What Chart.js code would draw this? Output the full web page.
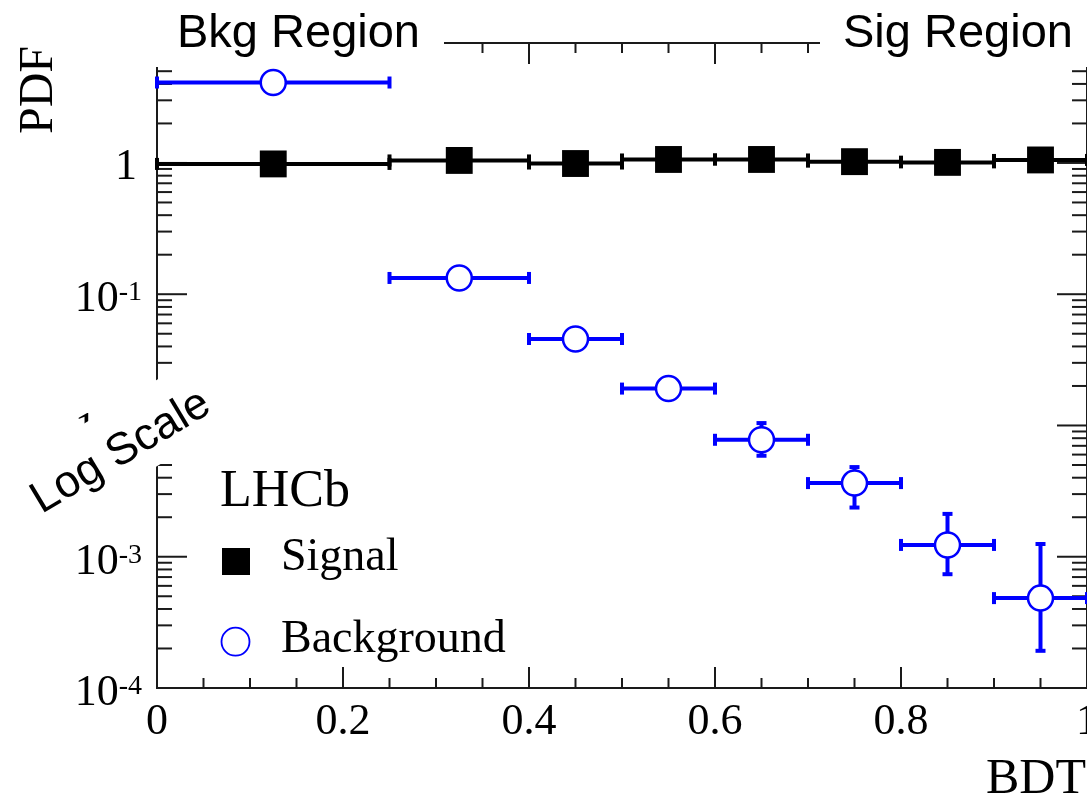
<!DOCTYPE html>
<html>
<head>
<meta charset="utf-8">
<title>BDT PDF</title>
<script src="https://cdn.jsdelivr.net/npm/chart.js@4.4.0/dist/chart.umd.min.js"></script>
<style>
    html, body { margin: 0; padding: 0; background: #fff; overflow: hidden; }
    #wrap { width: 1087px; height: 798px; overflow: hidden; position: relative; }
    canvas { display: block; }
</style>
</head>
<body>
<div id="wrap"><canvas id="pdfChart" width="1120" height="798"></canvas></div>
<script>
// Bines del BDT
const binLo = [0, 0.25, 0.4, 0.5, 0.6, 0.7, 0.8, 0.9];
const binHi = [0.25, 0.4, 0.5, 0.6, 0.7, 0.8, 0.9, 1.0];
const binCenter = [0.125, 0.325, 0.45, 0.55, 0.65, 0.75, 0.85, 0.95];

// Señal
const signalPdf = [0.983, 1.045, 0.99, 1.063, 1.063, 1.023, 1.01, 1.054];

// Fondo (errores verticales: null = escondido bajo el marcador)
const backgroundPdf = [4.1, 0.133, 0.0456, 0.0191, 0.00778, 0.00364, 0.00123, 0.000484];
const backgroundErrHi = [null, null, null, null, 0.01043, 0.00482, 0.00212, 0.00125];
const backgroundErrLo = [null, null, null, null, 0.00588, 0.00237, 0.000736, 0.000192];

// Ejes
const xTickValues = [0, 0.2, 0.4, 0.6, 0.8, 1];
const xMinorStep = 0.05;
const yMin = 1e-4;
const yMax = 8.2;
const yTickValues = [1, 1e-1, 1e-2, 1e-3, 1e-4];
const yTickBases = ['1', '10', '10', '10', '10'];
const yTickExps = ['', '-1', '-2', '-3', '-4'];

const serif = '"Liberation Serif", "Times New Roman", serif';
const sans = '"Liberation Sans", Arial, sans-serif';
const blue = '#0000ff';
const frameColor = '#1a1a1a';

function seg(ctx, x1, y1, x2, y2) {
    ctx.beginPath();
    ctx.moveTo(x1, y1);
    ctx.lineTo(x2, y2);
    ctx.stroke();
}

// Marco estilo ROOT + barras de error
const framePlugin = {
    id: 'rootFrame',
    beforeDatasetsDraw(chart) {
        const ctx = chart.ctx;
        const xs = chart.scales.x, ys = chart.scales.y;
        const a = chart.chartArea;
        ctx.save();
        ctx.strokeStyle = frameColor;
        ctx.lineWidth = 2;
        ctx.lineCap = 'butt';
        // marco
        ctx.strokeRect(a.left, a.top, a.right - a.left, a.bottom - a.top);

        // ticks eje X (abajo y arriba, hacia dentro)
        for (let i = 0; i <= 20; i++) {
            const v = i * xMinorStep;
            const x = xs.getPixelForValue(v);
            const major = xTickValues.some(t => Math.abs(t - v) < 1e-9);
            const len = major ? 21 : 10;
            seg(ctx, x, a.bottom, x, a.bottom - len);
            seg(ctx, x, a.top, x, a.top + len);
        }

        // ticks eje Y (izquierda y derecha)
        for (let e = -4; e <= 0; e++) {
            for (let m = 1; m <= 9; m++) {
                const v = m * Math.pow(10, e);
                if (v > yMax) continue;
                const y = ys.getPixelForValue(v);
                const len = m === 1 ? 30 : 15;
                seg(ctx, a.left, y, a.left + len, y);
                seg(ctx, a.right, y, a.right - len, y);
            }
        }

        // barras de error
        ctx.beginPath();
        ctx.rect(a.left - 3, a.top, a.right - a.left + 6, a.bottom - a.top);
        ctx.clip();
        chart.data.datasets.forEach(ds => {
            ctx.strokeStyle = ds.errorColor;
            ctx.lineWidth = 4;
            ds.data.forEach((p, i) => {
                const y = ys.getPixelForValue(p.y);
                const xl = xs.getPixelForValue(ds.xLo[i]);
                const xh = xs.getPixelForValue(ds.xHi[i]);
                seg(ctx, xl, y, xh, y);
                seg(ctx, xl, y - 6, xl, y + 6);
                seg(ctx, xh, y - 6, xh, y + 6);
                if (ds.yHi && ds.yHi[i] != null) {
                    const x = xs.getPixelForValue(p.x);
                    const yt = ys.getPixelForValue(ds.yHi[i]);
                    const yb = ys.getPixelForValue(ds.yLo[i]);
                    seg(ctx, x, yt, x, yb);
                    seg(ctx, x - 5, yt, x + 5, yt);
                    seg(ctx, x - 5, yb, x + 5, yb);
                }
            });
        });
        ctx.restore();
    },
    afterDraw(chart) {
        const ctx = chart.ctx;
        const ys = chart.scales.y;
        const a = chart.chartArea;
        ctx.save();
        ctx.fillStyle = '#000';
        ctx.textBaseline = 'alphabetic';
        ctx.textAlign = 'right';

        // etiquetas eje Y con exponente
        yTickValues.forEach((v, i) => {
            const y = ys.getPixelForValue(v);
            const right = a.left - 15;
            if (!yTickExps[i]) {
                ctx.font = `44px ${serif}`;
                ctx.fillText(yTickBases[i], right - 5, y + 16);
                return;
            }
            ctx.font = `28px ${serif}`;
            ctx.fillText(yTickExps[i], right, y + 6);
            const ew = ctx.measureText(yTickExps[i]).width;
            ctx.font = `44px ${serif}`;
            ctx.fillText(yTickBases[i], right - ew, y + 17);
        });

        // títulos de ejes
        ctx.font = `50px ${serif}`;
        ctx.textAlign = 'left';
        ctx.fillText('BDT', 986, 793);
        ctx.save();
        ctx.translate(52, 90);
        ctx.rotate(-Math.PI / 2);
        ctx.font = `48px ${serif}`;
        ctx.textAlign = 'center';
        ctx.fillText('PDF', 0, 0);
        ctx.restore();

        // leyenda
        const sig = chart.data.datasets[0], bkg = chart.data.datasets[1];
        ctx.font = `52px ${serif}`;
        ctx.fillText('LHCb', 220, 506);
        ctx.fillStyle = sig.backgroundColor;
        ctx.fillRect(222, 548, 28, 27);
        ctx.beginPath();
        ctx.arc(235.5, 641.7, 14, 0, Math.PI * 2);
        ctx.fillStyle = '#fff';
        ctx.fill();
        ctx.strokeStyle = bkg.borderColor;
        ctx.lineWidth = 1.8;
        ctx.stroke();
        ctx.fillStyle = '#000';
        ctx.font = `46px ${serif}`;
        ctx.fillText('Signal', 281, 570);
        ctx.fillText('Background', 281, 652);

        // etiquetas de región (con caja blanca)
        ctx.fillStyle = '#fff';
        ctx.fillRect(140, 0, 304, 67);
        ctx.fillRect(820, 0, 300, 67);
        ctx.fillStyle = '#000';
        ctx.font = `47px ${sans}`;
        ctx.fillText('Bkg Region', 177, 47);
        ctx.fillText('Sig Region', 843, 47);

        // "Log Scale" girado sobre caja blanca
        const ang = -31 * Math.PI / 180;
        ctx.save();
        ctx.translate(122, 444);
        ctx.rotate(ang);
        ctx.fillStyle = '#fff';
        ctx.fillRect(-112, -37, 224, 74);
        ctx.restore();
        ctx.translate(121, 452);
        ctx.rotate(ang);
        ctx.fillStyle = '#000';
        ctx.font = `45px ${sans}`;
        ctx.textAlign = 'center';
        ctx.textBaseline = 'middle';
        ctx.fillText('Log Scale', 0, 0);
        ctx.restore();
    }
};

const ctx = document.getElementById('pdfChart').getContext('2d');
const pdfChart = new Chart(ctx, {
    type: 'scatter',
    data: {
        datasets: [
            {
                label: 'Signal',
                data: binCenter.map((x, i) => ({ x, y: signalPdf[i] })),
                xLo: binLo,
                xHi: binHi,
                errorColor: '#000',
                pointStyle: 'rect',
                pointRadius: 19,
                backgroundColor: '#000',
                borderColor: '#000',
                borderWidth: 0
            },
            {
                label: 'Background',
                data: binCenter.map((x, i) => ({ x, y: backgroundPdf[i] })),
                xLo: binLo,
                xHi: binHi,
                yHi: backgroundErrHi,
                yLo: backgroundErrLo,
                errorColor: blue,
                pointStyle: 'circle',
                pointRadius: 12.5,
                backgroundColor: '#fff',
                borderColor: blue,
                borderWidth: 2.5
            }
        ]
    },
    options: {
        responsive: false,
        animation: false,
        layout: { padding: { left: 157, right: 33, top: 43, bottom: 0 } },
        plugins: {
            legend: { display: false },
            tooltip: { enabled: false }
        },
        scales: {
            x: {
                type: 'linear',
                min: 0,
                max: 1,
                grid: { display: false, drawTicks: false },
                border: { display: false },
                ticks: {
                    stepSize: 0.2,
                    padding: 8,
                    color: '#000',
                    font: { family: serif, size: 44 },
                    callback: (v) => String(Number(v.toFixed(1)))
                },
                afterFit(scale) { scale.height = 110; }
            },
            y: {
                type: 'logarithmic',
                display: false,
                min: yMin,
                max: yMax
            }
        }
    },
    plugins: [framePlugin]
});
</script>
</body>
</html>
